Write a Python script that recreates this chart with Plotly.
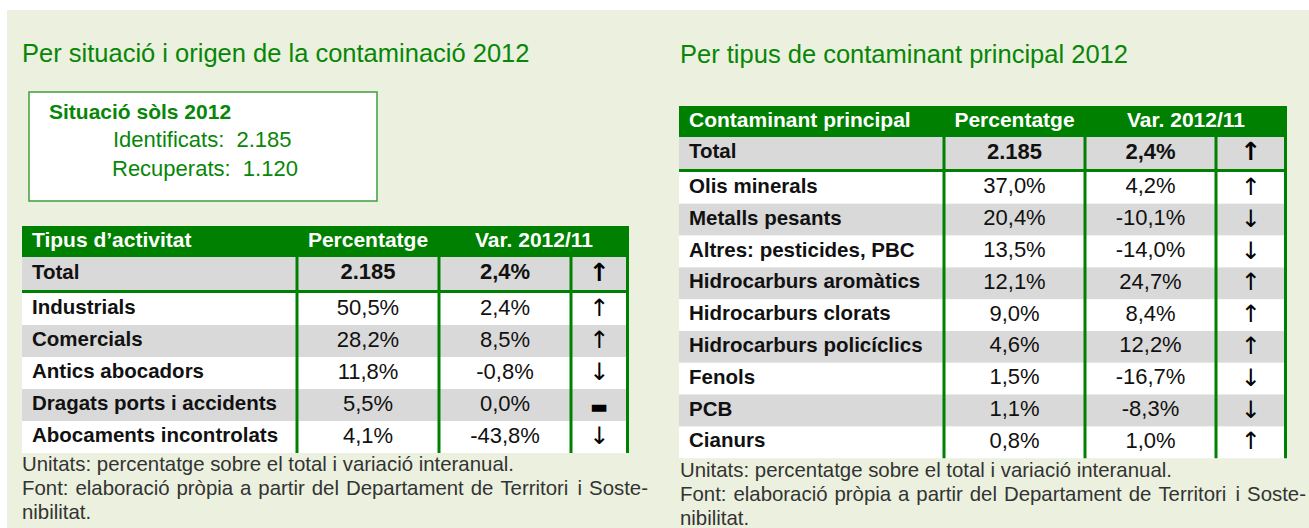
import plotly.graph_objects as go

# ---------------- data ----------------
left_title = "Per situació i origen de la contaminació 2012"
right_title = "Per tipus de contaminant principal 2012"

box_title = "Situació sòls 2012"
situacio_labels = ["Identificats:", "Recuperats:"]
situacio_values = [2185, 1120]

left_headers = ["Tipus d’activitat", "Percentatge", "Var. 2012/11"]
activitat_labels = ["Industrials", "Comercials", "Antics abocadors",
                    "Dragats ports i accidents", "Abocaments incontrolats"]
activitat_pct = [50.5, 28.2, 11.8, 5.5, 4.1]
activitat_var = [2.4, 8.5, -0.8, 0.0, -43.8]
activitat_total = 2185
activitat_total_var = 2.4

right_headers = ["Contaminant principal", "Percentatge", "Var. 2012/11"]
contaminant_labels = ["Olis minerals", "Metalls pesants", "Altres: pesticides, PBC",
                      "Hidrocarburs aromàtics", "Hidrocarburs clorats",
                      "Hidrocarburs policíclics", "Fenols", "PCB", "Cianurs"]
contaminant_pct = [37.0, 20.4, 13.5, 12.1, 9.0, 4.6, 1.5, 1.1, 0.8]
contaminant_var = [4.2, -10.1, -14.0, 24.7, 8.4, 12.2, -16.7, -8.3, 1.0]
contaminant_total = 2185
contaminant_total_var = 2.4

total_label = "Total"
note_units = "Unitats: percentatge sobre el total i variació interanual."
note_source = "Font: elaboració pròpia a partir del Departament de Territori i Soste-"
note_source_end = "nibilitat."

# ---------------- style ----------------
W, H = 1309, 528
FONT = "Liberation Sans, Arial, sans-serif"
SYM_FONT = "DejaVu Sans, sans-serif"
GREEN = "rgb(0,128,0)"
TITLE_GREEN = "rgb(8,134,8)"
GRAY = "#D9D9D9"
BG = "#EBF1DE"
TXT = "#111111"
NOTE = "#333333"

# Arial / Liberation Sans advance widths (1/1000 em) used for justification
ARIAL_W = {' ': 278, ':': 278, '-': 333, '.': 278, ',': 278, 'F': 611, 'D': 722,
           'T': 611, 'S': 667, 'U': 722, 'a': 556, 'b': 556, 'c': 500, 'd': 556,
           'e': 556, 'i': 222, 'l': 222, 'm': 833, 'n': 556, 'o': 556, 'p': 556,
           'r': 333, 's': 500, 't': 278, 'u': 556, 'v': 500, 'g': 556,
           'ó': 556, 'ò': 556}


def text_width(s, size):
    return sum(ARIAL_W.get(ch, 556) for ch in s) * size / 1000.0


def fmt_int(v):
    return f"{v:,}".replace(",", ".")


def fmt_pct(v):
    return f"{v:.1f}".replace(".", ",") + "%"


def arrow(v):
    return "↑" if v > 0 else ("↓" if v < 0 else "▬")


fig = go.Figure()
shapes = []


def rect(x0, y0, x1, y1, fill, line_color=None, line_width=0):
    shapes.append(dict(type="rect", xref="x", yref="y", x0=x0, y0=y0, x1=x1, y1=y1,
                       fillcolor=fill, layer="below",
                       line=dict(color=line_color or fill, width=line_width)))


def add_text(xs, ys, texts, size, color=TXT, weight="normal", pos="middle center",
             family=FONT):
    fig.add_trace(go.Scatter(
        x=xs, y=ys, text=texts, mode="text", textposition=pos,
        textfont=dict(family=family, size=size, color=color, weight=weight),
        hoverinfo="skip", showlegend=False, cliponaxis=False))


# background panel
rect(7, 10, W, H, BG)

# titles
add_text([22], [56], [left_title], 25.5, TITLE_GREEN, pos="middle right")
add_text([680], [57], [right_title], 25.5, TITLE_GREEN, pos="middle right")

# situation box
rect(29, 92, 377, 201, "white", "rgb(60,160,60)", 1.5)
add_text([49], [114], [box_title], 21, TITLE_GREEN, weight="bold", pos="middle right")
box_rows = [141, 170]
add_text([113, 112], box_rows,
         [f"{lab}  {fmt_int(v)}" for lab, v in zip(situacio_labels, situacio_values)],
         22, TITLE_GREEN, pos="middle right")


def draw_table(x0, seps, xr, top, header_h, total_h, line_w, row_h,
               headers, labels, pct, var, total, total_var):
    bw = 3.0
    right_outer = xr + bw / 2
    # header band
    rect(x0, top, right_outer, top + header_h, GREEN)
    t_top = top + header_h
    t_bot = t_top + total_h
    rect(x0, t_top, xr, t_bot, GRAY)
    rect(x0, t_bot, right_outer, t_bot + line_w, GREEN)
    r0 = t_bot + line_w
    n = len(labels)
    for i in range(n):
        rect(x0, r0 + i * row_h, xr, r0 + (i + 1) * row_h,
             GRAY if i % 2 == 1 else "white")
    bottom = r0 + n * row_h
    for s in list(seps) + [xr]:
        rect(s - bw / 2, t_top, s + bw / 2, bottom, GREEN)

    cx2 = (seps[0] + seps[1]) / 2
    cx3 = (seps[1] + seps[2]) / 2
    cx4 = (seps[2] + xr) / 2
    lx = x0 + 10
    hy = top + header_h / 2
    # header text
    add_text([lx], [hy], [headers[0]], 21, "white", "bold", "middle right")
    add_text([cx2, (seps[1] + right_outer) / 2], [hy, hy], headers[1:], 21, "white", "bold")
    # total row
    ty = t_top + total_h / 2
    add_text([lx], [ty], [total_label], 20.5, TXT, "bold", "middle right")
    add_text([cx2, cx3], [ty, ty], [fmt_int(total), fmt_pct(total_var)], 22, TXT, "bold")
    add_text([cx4], [ty + 1], [arrow(total_var)], 25, "#000000", "bold", family=SYM_FONT)
    # body rows
    ys = [r0 + (i + 0.5) * row_h for i in range(n)]
    add_text([lx] * n, ys, labels, 20.5, TXT, "bold", "middle right")
    add_text([cx2] * n, ys, [fmt_pct(v) for v in pct], 22, TXT)
    add_text([cx3] * n, ys, [fmt_pct(v) for v in var], 22, TXT)
    arr = [arrow(v) for v in var]
    ay = [y + (3 if a == "▬" else 1) for y, a in zip(ys, arr)]
    asz = [19 if a == "▬" else 24 for a in arr]
    fig.add_trace(go.Scatter(
        x=[cx4] * n, y=ay, text=arr, mode="text", textposition="middle center",
        textfont=dict(family=SYM_FONT, size=asz, color="#000000"),
        hoverinfo="skip", showlegend=False, cliponaxis=False))
    return bottom


def draw_notes(x0, top, width):
    size = 20.4
    lh = 24
    add_text([x0], [top], [note_units], size, NOTE, pos="middle right")
    words = note_source.split(" ")
    widths = [text_width(w, size) for w in words]
    gap = (width - sum(widths)) / (len(words) - 1)
    xs, cur = [], x0
    for wd in widths:
        xs.append(cur)
        cur += wd + gap
    add_text(xs, [top + lh] * len(words), words, size, NOTE, pos="middle right")
    add_text([x0], [top + 2 * lh], [note_source_end], size, NOTE, pos="middle right")


lb = draw_table(22, [297, 439, 571], 627.5, 226, 31, 33, 3, 32,
                left_headers, activitat_labels, activitat_pct, activitat_var,
                activitat_total, activitat_total_var)
draw_notes(22, lb + 13, 626)

rb = draw_table(679, [944, 1085, 1216], 1285.5, 106, 31, 32, 3, 31.8,
                right_headers, contaminant_labels, contaminant_pct, contaminant_var,
                contaminant_total, contaminant_total_var)
draw_notes(680, rb + 13.5, 626)

fig.update_layout(
    width=W, height=H, margin=dict(l=0, r=0, t=0, b=0),
    paper_bgcolor="white", plot_bgcolor="white",
    shapes=shapes, showlegend=False,
    xaxis=dict(range=[0, W], visible=False, fixedrange=True),
    yaxis=dict(range=[H, 0], visible=False, fixedrange=True),
)

fig.write_html("out.html", config={"displayModeBar": False},
               post_script="document.body.style.margin='0px';"
                           "document.body.style.overflow='hidden';")
